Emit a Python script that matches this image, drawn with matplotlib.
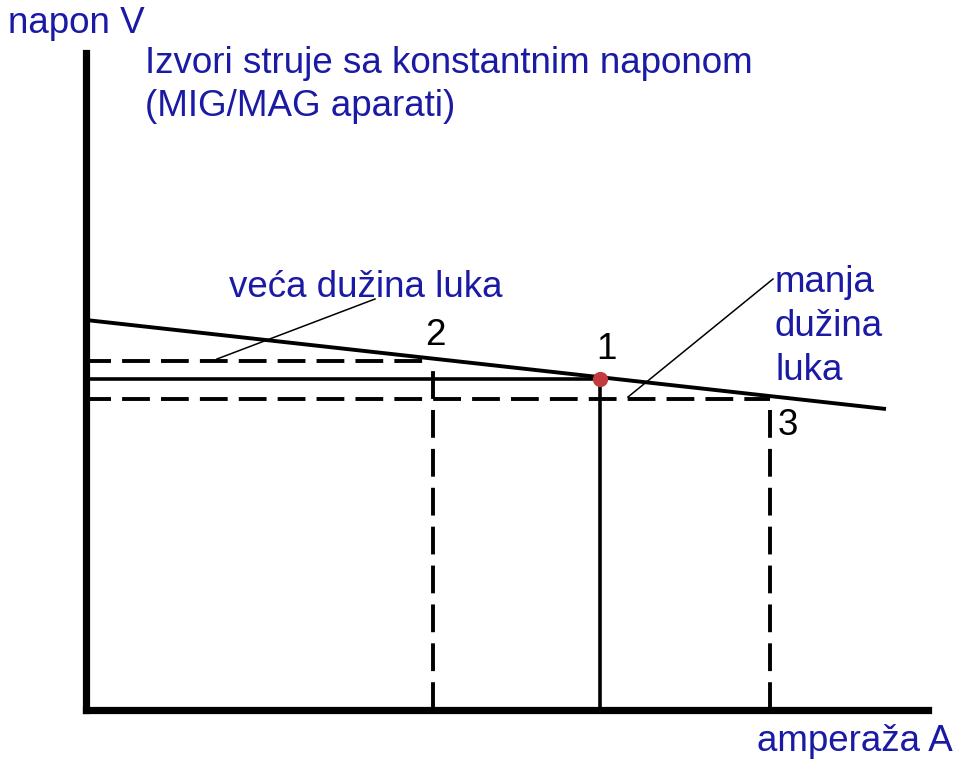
import matplotlib
matplotlib.use('Agg')
import matplotlib.pyplot as plt

plt.rcParams['font.family'] = ['Liberation Sans', 'DejaVu Sans']
plt.rcParams['lines.scale_dashes'] = False

plava = '#1a1aa4'

# karakteristika izvora (amperaza A, napon V)
kar_A = [0, 400]
kar_V = [39.0, 30.1]

# radne tacke 1, 2, 3
tacke = ['1', '2', '3']
tacke_A = [257, 173.5, 342]
tacke_V = [33.1, 34.9, 31.1]

# linije koje pokazuju na oznake
vodilja_veca_A = [65.5, 144.5]
vodilja_veca_V = [35.1, 41.1]
vodilja_manja_A = [271, 343.5]
vodilja_manja_V = [31.3, 43.1]

manja_redovi = ['manja', 'dužina', 'luka']

W, H = 958, 761
fig = plt.figure(figsize=(W / 100, H / 100), dpi=100)
ax = fig.add_axes([86 / W, 51 / H, (928 - 86) / W, (710 - 53) / H])
ax.set_xlim(0, 421)
ax.set_ylim(0, 65.7)
ax.spines['top'].set_visible(False)
ax.spines['right'].set_visible(False)
for s in ['left', 'bottom']:
    ax.spines[s].set_linewidth(5.2)
    ax.spines[s].set_color('black')
ax.set_xticks([])
ax.set_yticks([])

# kriva izvora
ax.plot(kar_A, kar_V, color='black', lw=2.8, solid_capstyle='butt', zorder=3)

# tacka 1 - puna linija
a1, v1 = tacke_A[0], tacke_V[0]
ax.plot([0, a1], [v1, v1], color='black', lw=2.6, zorder=2)
ax.plot([a1, a1], [0, v1], color='black', lw=2.6, zorder=2)

# tacke 2 i 3 - isprekidano
for a, v in zip(tacke_A[1:], tacke_V[1:]):
    ax.plot([0, a], [v, v], color='black', lw=2.8, ls=(2, (20, 8)), zorder=2)
    ax.plot([a, a], [0, v], color='black', lw=2.8, ls=(0, (20, 8)), zorder=2)

ax.plot(a1, v1, 'o', color='#c33b3f', ms=10, zorder=4)

# oznake tacaka
ax.text(260, 36.1, '1', fontsize=26.5, ha='center', va='center')
ax.text(174.5, 37.5, '2', fontsize=26.5, ha='center', va='center')
ax.text(351, 28.5, '3', fontsize=26.5, ha='center', va='center')

ax.plot(vodilja_veca_A, vodilja_veca_V, color='black', lw=1.1, zorder=3)
ax.plot(vodilja_manja_A, vodilja_manja_V, color='black', lw=1.1, zorder=3)

ax.text(140, 41.3, 'veća dužina luka', fontsize=26.5, color=plava,
        ha='center', va='baseline')
for red, v in zip(manja_redovi, [41.8, 37.4, 33.0]):
    ax.text(344.5, v, red, fontsize=26.5, color=plava, ha='left', va='baseline')

fig.text(8 / W, 1 - 33 / H, 'napon V', fontsize=26.5, color=plava, va='baseline')
fig.text(145 / W, 1 - 73 / H, 'Izvori struje sa konstantnim naponom',
         fontsize=26.5, color=plava, va='baseline')
fig.text(145 / W, 1 - 116 / H, '(MIG/MAG aparati)',
         fontsize=26.5, color=plava, va='baseline')
fig.text(953 / W, 1 - 751 / H, 'amperaža A', fontsize=26.5, color=plava,
         ha='right', va='baseline')

fig.savefig('out.png', dpi=100)
